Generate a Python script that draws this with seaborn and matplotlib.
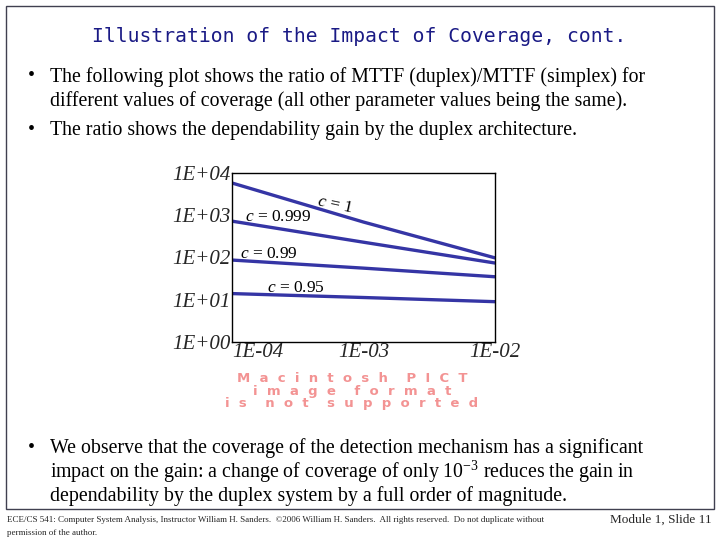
import numpy as np
import pandas as pd
import matplotlib
matplotlib.use("Agg")
import matplotlib.pyplot as plt
import seaborn as sns
from matplotlib.patches import Rectangle

# ---- data ----
failure_rate = [1e-4, 1e-3, 1e-2]
ratio_c1 = [5800, 690, 98]
ratio_c0999 = [725, 230, 74]
ratio_c099 = [87, 56, 35]
ratio_c095 = [14, 11.3, 9]
coverages = ["c = 1", "c = 0.999", "c = 0.99", "c = 0.95"]
y_ticks = [1, 10, 100, 1000, 10000]
y_tick_labels = ["1E+00", "1E+01", "1E+02", "1E+03", "1E+04"]
x_ticks = [1e-4, 1e-3, 1e-2]
x_tick_labels = ["1E-04", "1E-03", "1E-02"]

df = pd.DataFrame({
    "x": failure_rate * 4,
    "ratio": ratio_c1 + ratio_c0999 + ratio_c099 + ratio_c095,
    "coverage": [c for c in coverages for _ in failure_rate],
})

sns.set_theme(style="white")
plt.rcParams["font.family"] = ["Liberation Serif", "DejaVu Sans"]
plt.rcParams["mathtext.fontset"] = "custom"
plt.rcParams["mathtext.rm"] = "Liberation Serif"
plt.rcParams["mathtext.it"] = "Liberation Serif:italic"

W, H = 720, 540
fig = plt.figure(figsize=(7.2, 5.4), dpi=100)
fig.patch.set_facecolor("white")

def fx(px):
    return px / W

def fy(py):
    return 1 - py / H

# slide border
fig.patches.append(Rectangle((fx(6), fy(509)), fx(714) - fx(6), fy(6) - fy(509),
                             transform=fig.transFigure, fill=False,
                             edgecolor="#404050", linewidth=1.0))

# title
fig.text(fx(359), fy(36), "Illustration of the Impact of Coverage, cont.",
         ha="center", va="center", fontsize=14.15, color="#1a1a85",
         family=["DejaVu Sans Mono"])

body = dict(fontsize=14.35, color="black", family=["Liberation Serif"], va="center")
fig.text(fx(28), fy(77), "•", **body)
fig.text(fx(50), fy(77), "The following plot shows the ratio of MTTF (duplex)/MTTF (simplex) for", **body)
fig.text(fx(50), fy(101), "different values of coverage (all other parameter values being the same).", **body)
fig.text(fx(28), fy(130), "•", **body)
fig.text(fx(50), fy(130), "The ratio shows the dependability gain by the duplex architecture.", **body)

fig.text(fx(28), fy(448), "•", **body)
fig.text(fx(50), fy(448), "We observe that the coverage of the detection mechanism has a significant", **body)
fig.text(fx(50), fy(472), "impact on the gain: a change of coverage of only 10$^{-3}$ reduces the gain in", **body)
fig.text(fx(50), fy(496), "dependability by the duplex system by a full order of magnitude.", **body)

# footer
fig.text(fx(7), fy(520), "ECE/CS 541: Computer System Analysis, Instructor William H. Sanders.  \u00a92006 William H. Sanders.  All rights reserved.  Do not duplicate without",
         fontsize=6.5, va="center", ha="left", family=["Liberation Serif"])
fig.text(fx(7), fy(533), "permission of the author.",
         fontsize=6.5, va="center", ha="left", family=["Liberation Serif"])
fig.text(fx(712), fy(520), "Module 1, Slide 11", fontsize=9.5, va="center", ha="right",
         family=["Liberation Serif"])

# PICT placeholder text
fig.text(fx(352), fy(391.5),
         "M  a  c  i  n  t  o  s  h    P  I  C  T\n"
         "i  m  a  g  e    f  o  r  m  a  t\n"
         "i  s    n  o  t    s  u  p  p  o  r  t  e  d",
         fontsize=9.5, color="#f07878", ha="center", va="center",
         multialignment="center", linespacing=0.95,
         family=["DejaVu Sans"], fontweight="bold", alpha=0.8)

# chart
ax = fig.add_axes([fx(232), fy(342), fx(495) - fx(232), fy(173) - fy(342)])
line_color = "#3535a5"
sns.lineplot(data=df, x="x", y="ratio", hue="coverage",
             palette=[line_color] * 4, linewidth=2.4, legend=False, ax=ax)
ax.set_xscale("log")
ax.set_yscale("log")
ax.set_xlim(1e-4, 1e-2)
ax.set_ylim(1, 1e4)
ax.set_xlabel("")
ax.set_ylabel("")
ax.minorticks_off()
ax.set_yticks(y_ticks)
ax.set_yticklabels(y_tick_labels)
ax.set_xticks(x_ticks)
ax.set_xticklabels(x_tick_labels)
ax.tick_params(axis="both", length=0, labelsize=15, pad=1)
for lab in ax.get_yticklabels() + ax.get_xticklabels():
    lab.set_fontstyle("italic")
    lab.set_family(["Liberation Serif"])
ax.get_xticklabels()[0].set_horizontalalignment("left")
for s in ax.spines.values():
    s.set_color("black")
    s.set_linewidth(1.0)
ax.set_facecolor("white")

ann = dict(fontsize=12.5, color="black", family=["Liberation Serif"], va="center")
ax.text(6.07e-4, 1750, "$c$ = $\\mathit{1}$", rotation=-12, ha="center", **ann)
ax.text(1.26e-4, 912, "$c$ = 0.999", ha="left", **ann)
ax.text(1.15e-4, 121, "$c$ = 0.99", ha="left", **ann)
ax.text(1.85e-4, 19, "$c$ = 0.95", ha="left", **ann)

fig.savefig("out.png", dpi=100)
